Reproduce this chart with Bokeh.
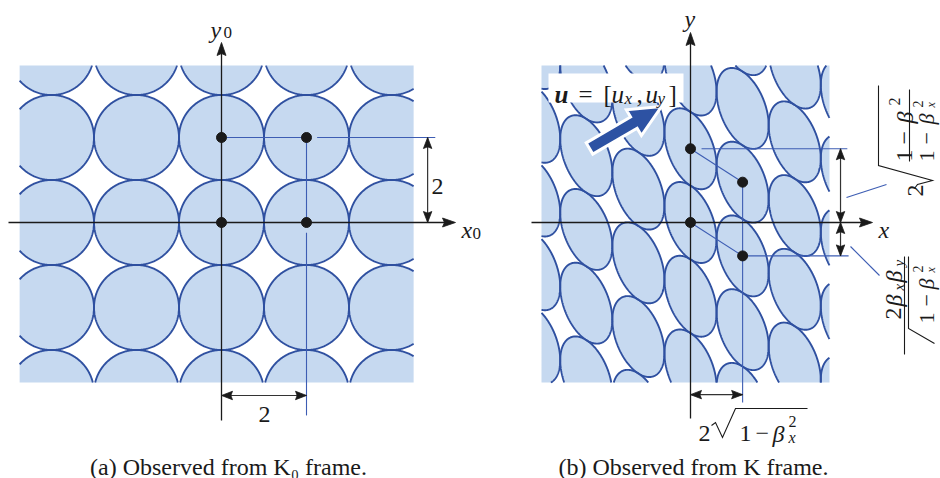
import math
import numpy as np
from bokeh.plotting import figure
from bokeh.layouts import row
from bokeh.models import Range1d
from bokeh.core.properties import value
from bokeh.embed import file_html
from bokeh.resources import INLINE

# ---------------- data ----------------
# panel (a): square lattice of unit circles, spacing 2
grid_x0 = [-4, -2, 0, 2, 4]
grid_y0 = [-4, -2, 0, 2, 4]
radius0 = 1.0
spacing0 = 2.0
dots0_x = [0, 2, 0, 2]
dots0_y = [0, 0, 2, 2]
rect0 = (-4.75, 4.52, -3.765, 3.694)          # x0, x1, y0, y1 of shaded window

# panel (b): same lattice seen from moving frame K
beta_x = 0.79
beta_y = 0.305
lat_i = [-4, -3, -2, -1, 0, 1, 2, 3, 4]
lat_j = [-6, -5, -4, -3, -2, -1, 0, 1, 2, 3, 4, 5, 6]
rect1 = (-3.506, 3.27, -3.765, 3.694)

# ---------------- style / layout ----------------
S = 42.5                 # pixels per unit
OY = 222                 # page y of the x-axes
OX0, OX1 = 221, 690      # page x of the two origins
SPLIT = 505
PAGE_W, H = 940, 478
FONT = "Liberation Serif"
INK = "#1a1a1a"
BLUE_FILL = "#c6d9f0"
BLUE_EDGE = "#2f50a0"
BLUE_THIN = "#3d5db3"
ARROW_BLUE = "#2d52a3"


def make_fig(left_px, right_px, ox):
    p = figure(width=right_px - left_px, height=H,
               x_range=Range1d((left_px - ox) / S, (right_px - ox) / S),
               y_range=Range1d((OY - H) / S, OY / S),
               x_axis_type=None, y_axis_type=None,
               output_backend="svg", toolbar_location=None, min_border=0)
    p.grid.visible = False
    p.outline_line_color = None
    p.background_fill_color = "white"
    p.border_fill_color = "white"
    return p


# ---- clipping of ellipses to the shaded window ----
def ellipse_outline(cx, cy, A, B, th, n=360):
    t = np.linspace(0, 2 * np.pi, n, endpoint=False)
    x = cx + A * np.cos(t) * math.cos(th) - B * np.sin(t) * math.sin(th)
    y = cy + A * np.cos(t) * math.sin(th) + B * np.sin(t) * math.cos(th)
    return list(zip(x, y))


def _ix(p, q, xc):
    t = (xc - p[0]) / (q[0] - p[0])
    return (xc, p[1] + t * (q[1] - p[1]))


def _iy(p, q, yc):
    t = (yc - p[1]) / (q[1] - p[1])
    return (p[0] + t * (q[0] - p[0]), yc)


def clip_polygon(pts, r):
    x0, x1, y0, y1 = r
    edges = [(lambda p: p[0] >= x0, lambda p, q: _ix(p, q, x0)),
             (lambda p: p[0] <= x1, lambda p, q: _ix(p, q, x1)),
             (lambda p: p[1] >= y0, lambda p, q: _iy(p, q, y0)),
             (lambda p: p[1] <= y1, lambda p, q: _iy(p, q, y1))]
    out = pts
    for inside, inter in edges:
        if not out:
            break
        src, out = out, []
        for k in range(len(src)):
            cur, prev = src[k], src[k - 1]
            if inside(cur):
                if not inside(prev):
                    out.append(inter(prev, cur))
                out.append(cur)
            elif inside(prev):
                out.append(inter(prev, cur))
    return out


def clip_segment(p, q, r):
    x0, x1, y0, y1 = r
    dx, dy = q[0] - p[0], q[1] - p[1]
    t0, t1 = 0.0, 1.0
    for pk, qk in ((-dx, p[0] - x0), (dx, x1 - p[0]), (-dy, p[1] - y0), (dy, y1 - p[1])):
        if pk == 0:
            if qk < 0:
                return None
        else:
            t = qk / pk
            if pk < 0:
                t0 = max(t0, t)
            else:
                t1 = min(t1, t)
    if t0 > t1:
        return None
    return t0, t1, (p[0] + t0 * dx, p[1] + t0 * dy), (p[0] + t1 * dx, p[1] + t1 * dy)


def clip_closed_line(pts, r):
    runs, cur = [], None
    n = len(pts)
    for k in range(n):
        res = clip_segment(pts[k], pts[(k + 1) % n], r)
        if res is None:
            if cur:
                runs.append(cur)
            cur = None
            continue
        t0, t1, a, b = res
        if cur is None or t0 > 1e-12:
            if cur:
                runs.append(cur)
            cur = [a, b]
        else:
            cur.append(b)
        if t1 < 1 - 1e-12:
            runs.append(cur)
            cur = None
    if cur:
        runs.append(cur)
    if len(runs) > 1 and runs[0][0] == pts[0] and runs[-1][-1] == pts[0]:
        runs[0] = runs[-1][:-1] + runs[0]
        runs.pop()
    return runs


def draw_clipped_ellipses(p, cxs, cys, A, B, th, r):
    fx, fy, lx, ly = [], [], [], []
    for cx, cy in zip(cxs, cys):
        pts = ellipse_outline(cx, cy, A, B, th)
        poly = clip_polygon(pts, r)
        if len(poly) < 3:
            continue
        fx.append([q[0] for q in poly])
        fy.append([q[1] for q in poly])
        for run in clip_closed_line(pts, r):
            lx.append([q[0] for q in run])
            ly.append([q[1] for q in run])
    p.patches(fx, fy, fill_color=BLUE_FILL, line_color=None)
    p.multi_line(lx, ly, line_color=BLUE_EDGE, line_width=1.9)


def head(p, tx, ty, ang, L=13, Wd=4.5, color=INK):
    dx, dy = math.cos(ang), math.sin(ang)
    nx, ny = -dy, dx
    L /= S
    Wd /= S
    xs = [tx, tx - L * dx + Wd * nx, tx - 0.85 * L * dx, tx - L * dx - Wd * nx]
    ys = [ty, ty - L * dy + Wd * ny, ty - 0.85 * L * dy, ty - L * dy - Wd * ny]
    p.patch(xs, ys, fill_color=color, line_color=color, line_width=0.8)


def axis_arrow(p, x0, y0, x1, y1, L=13, Wd=4.5):
    ang = math.atan2(y1 - y0, x1 - x0)
    p.segment(x0=[x0], y0=[y0], x1=[x1 - 0.5 * L / S * math.cos(ang)],
              y1=[y1 - 0.5 * L / S * math.sin(ang)], line_color=INK, line_width=1.3)
    head(p, x1, y1, ang, L, Wd)


def dim_arrow(p, x0, y0, x1, y1, L=11, Wd=4.2):
    ang = math.atan2(y1 - y0, x1 - x0)
    p.segment(x0=[x0], y0=[y0], x1=[x1], y1=[y1], line_color="#333333", line_width=1.2)
    head(p, x1, y1, ang, L, Wd)
    head(p, x0, y0, ang + math.pi, L, Wd)


def thin(p, xs, ys, color=BLUE_THIN, w=1.1):
    p.line(xs, ys, line_color=color, line_width=w)


def pline(p, ox, pts, color=INK, w=1.1):
    p.line([(x - ox) / S for x, _ in pts], [(OY - y) / S for _, y in pts],
           line_color=color, line_width=w, line_join="miter")


def add_text(p, ox, items):
    for (px, py, s, size, style, rot, align) in items:
        p.text(x=[(px - ox) / S], y=[(OY - py) / S], text=[s],
               text_font=value(FONT), text_font_size=value(f"{size}px"),
               text_font_style=style, text_align=align, text_baseline="alphabetic",
               angle=math.radians(rot), text_color=INK)


# ================= panel (a) =================
p0 = make_fig(0, SPLIT, OX0)
cx0 = [x for x in grid_x0 for y in grid_y0]
cy0 = [y for x in grid_x0 for y in grid_y0]
draw_clipped_ellipses(p0, cx0, cy0, radius0, radius0, 0.0, rect0)

# guide lines
thin(p0, [0, spacing0], [0, 0])
thin(p0, [0, 0], [0, spacing0])
thin(p0, [0, spacing0], [spacing0, spacing0])
thin(p0, [spacing0, spacing0], [0, spacing0])
thin(p0, [spacing0 + 0.25, 5.03], [spacing0, spacing0])
thin(p0, [spacing0, spacing0], [-0.24, -4.54])

axis_arrow(p0, (8 - OX0) / S, 0, (455 - OX0) / S, 0)
axis_arrow(p0, 0, (OY - 420) / S, 0, (OY - 42) / S)

p0.scatter(x=dots0_x, y=dots0_y, size=10, fill_color=INK, line_color=INK)

dim_arrow(p0, 4.85, 0, 4.85, spacing0)
dim_arrow(p0, 0, -4.07, spacing0, -4.07)

add_text(p0, OX0, [
    (210, 29, "y", 24, "italic", 0, "left"),
    (223, 32, "0", 17, "normal", 0, "left"),
    (461, 229, "x", 24, "italic", 0, "left"),
    (472, 233, "0", 17, "normal", 0, "left"),
    (431, 186, "2", 24, "normal", 0, "left"),
    (258, 414, "2", 24, "normal", 0, "left"),
    (228, 466, "(a) Observed from K\u2080 frame.", 24, "normal", 0, "center"),
])

# ================= panel (b) =================
p1 = make_fig(SPLIT, PAGE_W, OX1)
sx = math.sqrt(1 - beta_x ** 2)
beta2 = beta_x ** 2 + beta_y ** 2
M = np.array([[sx, 0.0],
              [-beta_x * beta_y / sx, math.sqrt(1 - beta2) / sx]])
a_vec = M @ np.array([2.0, 0.0])
b_vec = M @ np.array([0.0, 2.0])
evals, evecs = np.linalg.eigh(M @ M.T)
semi_minor, semi_major = math.sqrt(evals[0]), math.sqrt(evals[1])
theta = math.atan2(evecs[1, 1], evecs[0, 1])

ex = [i * a_vec[0] + j * b_vec[0] for i in lat_i for j in lat_j]
ey = [i * a_vec[1] + j * b_vec[1] for i in lat_i for j in lat_j]
draw_clipped_ellipses(p1, ex, ey, semi_major, semi_minor, theta, rect1)

# label box for velocity
p1.quad(left=[(548 - OX1) / S], right=[(683 - OX1) / S],
        top=[(OY - 73) / S], bottom=[(OY - 102) / S],
        fill_color="white", line_color=None)

ax_, ay_ = a_vec
bx_, by_ = b_vec
thin(p1, [0, 0], [0, by_])
thin(p1, [0, ax_], [0, ay_])
thin(p1, [0, ax_], [by_, ay_ + by_])
thin(p1, [ax_, ax_], [ay_ + by_, (OY - 402) / S])
thin(p1, [0.26, 3.69], [by_, by_])
thin(p1, [ax_, 3.72], [ay_, ay_])
# leaders to the rotated labels
pline(p1, OX1, [(846, 197), (886, 184)], BLUE_THIN, 1.1)
pline(p1, OX1, [(850, 246), (879, 275)], BLUE_THIN, 1.1)

axis_arrow(p1, (531 - OX1) / S, 0, (872 - OX1) / S, 0)
axis_arrow(p1, 0, (OY - 418) / S, 0, (OY - 32) / S)

p1.scatter(x=[0, bx_, ax_, ax_ + bx_], y=[0, by_, ay_, ay_ + by_],
           size=10, fill_color=INK, line_color=INK)

dim_arrow(p1, 3.53, by_, 3.53, 0)
dim_arrow(p1, 3.53, 0, 3.53, ay_)
dim_arrow(p1, 0, -4.05, ax_, -4.05)

# velocity arrow u
tail = np.array([(589 - OX1) / S, (OY - 148) / S])
tip = np.array([(661 - OX1) / S, (OY - 106) / S])
d = (tip - tail) / np.linalg.norm(tip - tail)
n = np.array([-d[1], d[0]])
Lh, ws, wh = 32 / S, 6.5 / S, 15 / S
neck = tip - Lh * d
poly = [tail + ws * n, neck + ws * n, neck + wh * n, tip, neck - wh * n, neck - ws * n, tail - ws * n]
p1.patch([q[0] for q in poly], [q[1] for q in poly], fill_color=ARROW_BLUE,
         line_color="white", line_width=3, line_join="miter")

# radicals and fraction bars (page coordinates)
pline(p1, OX1, [(711, 425), (715, 422), (722, 437), (735, 408), (807, 408)], INK, 1.1)
pline(p1, OX1, [(914, 188), (917, 184), (932, 180), (878, 165), (878, 85)], INK, 1.1)
pline(p1, OX1, [(909, 161), (909, 89)], INK, 1.1)
pline(p1, OX1, [(904, 354), (904, 256)], INK, 1.1)
pline(p1, OX1, [(934, 343), (908, 328), (908, 256)], INK, 1.1)

add_text(p1, OX1, [
    (684, 18, "y", 24, "italic", 0, "left"),
    (878, 229, "x", 24, "italic", 0, "left"),
    # u = [u_x, u_y]
    (554, 94, "u", 25, "bold italic", 0, "left"),
    (578, 94, "=", 25, "normal", 0, "left"),
    (603, 94, "[", 25, "normal", 0, "left"),
    (611, 94, "u", 25, "italic", 0, "left"),
    (624, 98, "x", 17, "italic", 0, "left"),
    (636, 94, ",", 25, "normal", 0, "left"),
    (645, 94, "u", 25, "italic", 0, "left"),
    (657, 98, "y", 17, "italic", 0, "left"),
    (668, 94, "]", 25, "normal", 0, "left"),
    # 2 sqrt(1 - beta_x^2)
    (698, 433, "2", 24, "normal", 0, "left"),
    (739, 433, "1", 24, "normal", 0, "left"),
    (755, 433, "\u2212", 24, "normal", 0, "left"),
    (772, 433, "\u03b2", 24, "italic", 0, "left"),
    (788, 421, "2", 16, "normal", 0, "left"),
    (788, 437, "x", 16, "italic", 0, "left"),
    # rotated: 2 sqrt((1-beta^2)/(1-beta_x^2))
    (915, 196, "2", 24, "normal", 90, "left"),
    (904, 161, "1", 24, "normal", 90, "left"),
    (904, 144, "\u2212", 24, "normal", 90, "left"),
    (904, 123, "\u03b2", 24, "italic", 90, "left"),
    (894, 105, "2", 16, "normal", 90, "left"),
    (926, 161, "1", 22, "normal", 90, "left"),
    (926, 144, "\u2212", 22, "normal", 90, "left"),
    (926, 124, "\u03b2", 22, "italic", 90, "left"),
    (917, 107, "2", 14, "normal", 90, "left"),
    (930, 107, "x", 12, "italic", 90, "left"),
    # rotated: 2 beta_x beta_y / sqrt(1 - beta_x^2)
    (893, 319, "2", 24, "normal", 90, "left"),
    (893, 306, "\u03b2", 24, "italic", 90, "left"),
    (898, 290, "x", 15, "italic", 90, "left"),
    (893, 282, "\u03b2", 24, "italic", 90, "left"),
    (898, 266, "y", 15, "italic", 90, "left"),
    (926, 323, "1", 22, "normal", 90, "left"),
    (926, 306, "\u2212", 22, "normal", 90, "left"),
    (926, 289, "\u03b2", 22, "italic", 90, "left"),
    (917, 272, "2", 14, "normal", 90, "left"),
    (930, 272, "x", 12, "italic", 90, "left"),
    (693, 466, "(b) Observed from K frame.", 24, "normal", 0, "center"),
])

layout = row(p0, p1)
open("out.html", "w").write(file_html(layout, INLINE))
